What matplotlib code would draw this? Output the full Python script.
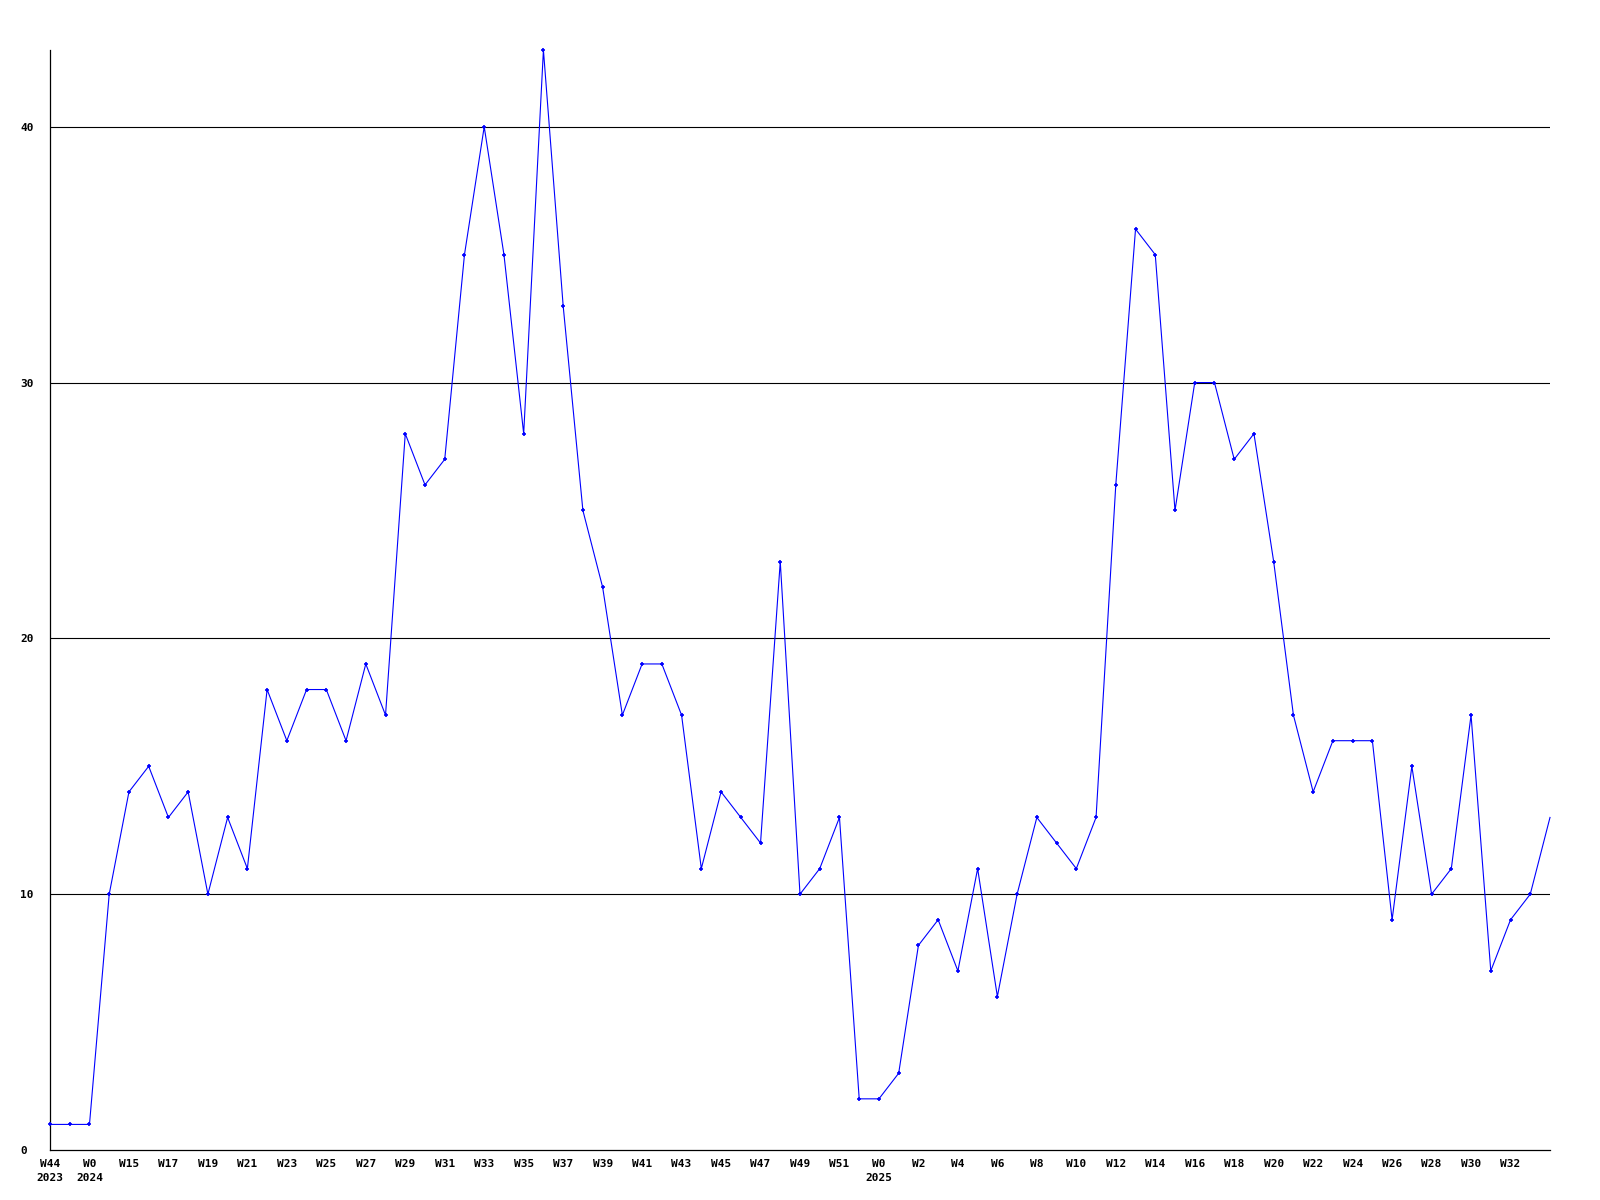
import matplotlib
matplotlib.use('Agg')
import matplotlib.pyplot as plt

# weekly counts, one value per point
values = [1, 1, 1, 10, 14, 15, 13, 14, 10, 13,
          11, 18, 16, 18, 18, 16, 19, 17, 28, 26,
          27, 35, 40, 35, 28, 43, 33, 25, 22, 17,
          19, 19, 17, 11, 14, 13, 12, 23, 10, 11,
          13, 2, 2, 3, 8, 9, 7, 11, 6, 10,
          13, 12, 11, 13, 26, 36, 35, 25, 30, 30,
          27, 28, 23, 17, 14, 16, 16, 16, 9, 15,
          10, 11, 17, 7, 9, 10, 13]

tick_labels = ["W44\n2023", "W0\n2024",
               "W15", "W17", "W19", "W21", "W23", "W25", "W27", "W29", "W31", "W33",
               "W35", "W37", "W39", "W41", "W43", "W45", "W47", "W49", "W51",
               "W0\n2025",
               "W2", "W4", "W6", "W8", "W10", "W12", "W14", "W16", "W18", "W20",
               "W22", "W24", "W26", "W28", "W30", "W32"]
y_ticks = [0, 10, 20, 30, 40]

plt.rcParams['font.family'] = ['DejaVu Sans Mono']
plt.rcParams['font.weight'] = 'bold'
plt.rcParams['font.size'] = 8

fig = plt.figure(figsize=(16, 12), dpi=100)
ax = fig.add_axes([50/1600, 50/1200, 1500/1600, 1100/1200])

x = list(range(len(values)))
for v in y_ticks[1:]:
    ax.axhline(v, color='black', lw=0.8, zorder=1)

ax.plot(x, values, color='#0000ff', lw=0.8, marker='+', ms=3.5, mew=1.2,
        markevery=list(range(len(values) - 1)), zorder=3, clip_on=False)

ax.set_xlim(0, len(values) - 1)
ax.set_ylim(0, 43)
ax.set_xticks(range(0, 2 * len(tick_labels), 2))
ax.set_xticklabels(tick_labels, linespacing=1.55)
ax.set_yticks(y_ticks)
ax.tick_params(axis='x', length=0, pad=6.5)
ax.tick_params(axis='y', length=0, pad=21.6)
for lbl in ax.get_yticklabels():
    lbl.set_horizontalalignment('left')

for s in ['top', 'right']:
    ax.spines[s].set_visible(False)
for s in ['left', 'bottom']:
    ax.spines[s].set_linewidth(0.9)
    ax.spines[s].set_color('black')

fig.savefig('out.png', dpi=100, facecolor='white')
